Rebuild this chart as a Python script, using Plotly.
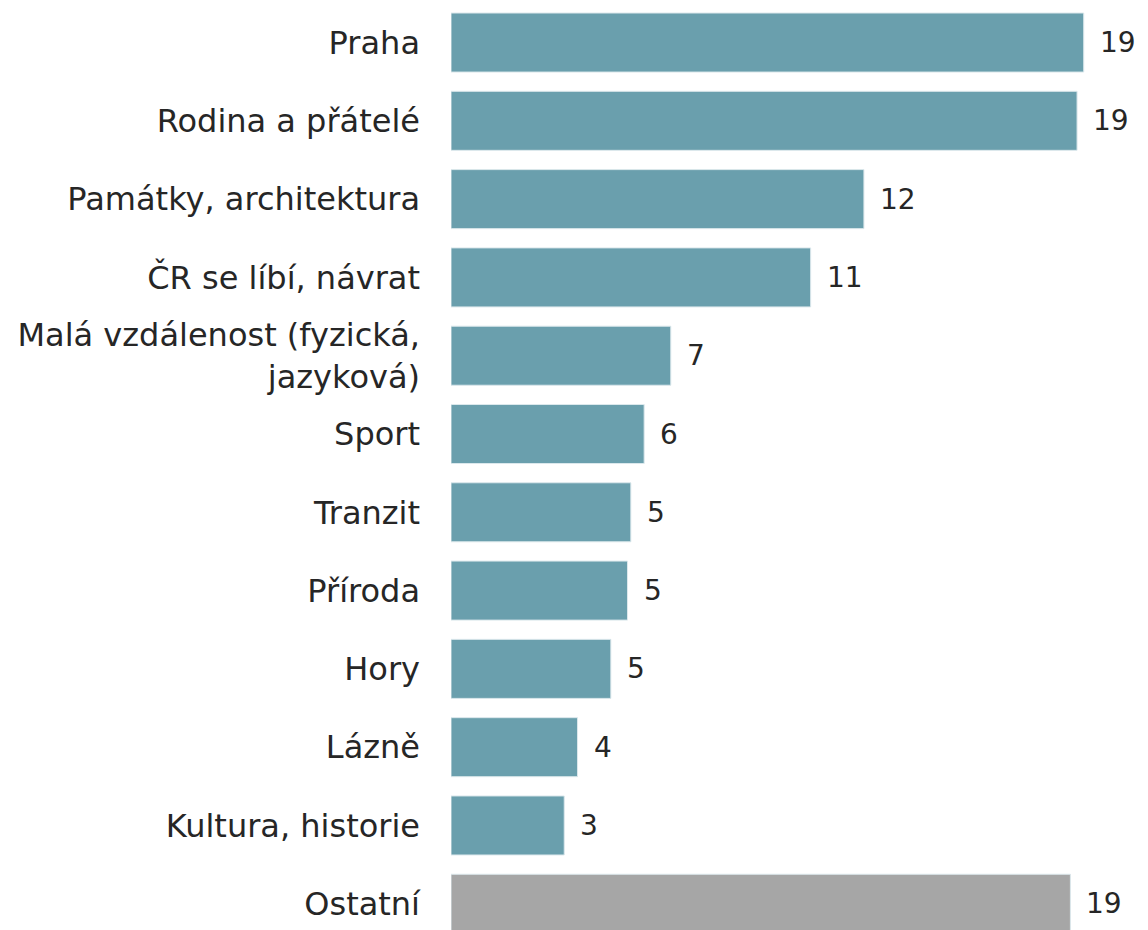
import plotly.graph_objects as go

categorias = ["Praha", "Rodina a přátelé", "Památky, architektura", "ČR se líbí, návrat",
              "Malá vzdálenost (fyzická,<br>jazyková)", "Sport", "Tranzit", "Příroda",
              "Hory", "Lázně", "Kultura, historie", "Ostatní"]
valores = [19.0, 18.8, 12.4, 10.8, 6.6, 5.8, 5.4, 5.3, 4.8, 3.8, 3.4, 18.6]
etiquetas = ["19", "19", "12", "11", "7", "6", "5", "5", "5", "4", "3", "19"]
colores = ["#6a9fad"] * 11 + ["#a6a6a6"]

fig = go.Figure()
fig.add_trace(go.Bar(
    x=valores, y=categorias, orientation='h',
    marker=dict(color=colores, line=dict(color='#dce8ec', width=1)),
    hoverinfo='skip'
))

# etiquetas de valor a la derecha de cada barra
for v, c, t in zip(valores, categorias, etiquetas):
    fig.add_annotation(x=v, y=c, text=t, showarrow=False, xanchor='left',
                       xshift=14, font=dict(size=28, color='#262626'))

fig.update_layout(
    width=1132, height=922,
    paper_bgcolor='white', plot_bgcolor='white',
    margin=dict(l=443, r=2, t=0, b=0),
    bargap=0.246,
    showlegend=False,
    font=dict(family='DejaVu Sans', size=32, color='#262626'),
    xaxis=dict(range=[0, 20.63], visible=False),
    yaxis=dict(range=[11.335, -0.441], showgrid=False, showline=False,
               ticks='', ticklabelstandoff=30, automargin=False),
)

fig.write_html("out.html")
